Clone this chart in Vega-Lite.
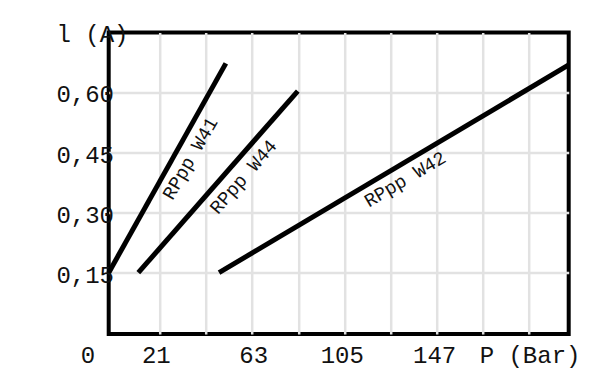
{
  "$schema": "https://vega.github.io/schema/vega-lite/v6.json",
  "width": 460,
  "height": 301.5,
  "autosize": "none",
  "padding": {"left": 108.7, "top": 32.5, "right": 31.3, "bottom": 56},
  "background": "white",
  "config": {
    "font": "Liberation Mono",
    "view": {"stroke": "#000", "strokeWidth": 4},
    "axis": {"labelFont": "Liberation Mono", "titleFont": "Liberation Mono", "labelColor": "#111", "titleColor": "#111", "titleFontWeight": "normal"}
  },
  "datasets": {
    "curves": [
      {"series": "RPpp W41", "p": -2.4, "i": 0.15},
      {"series": "RPpp W41", "p": 51.0, "i": 0.672},
      {"series": "RPpp W44", "p": 11.1, "i": 0.15},
      {"series": "RPpp W44", "p": 83.8, "i": 0.603},
      {"series": "RPpp W42", "p": 47.9, "i": 0.15},
      {"series": "RPpp W42", "p": 207.3, "i": 0.668}
    ],
    "labels": [
      {"series": "RPpp W41", "p": 34.7, "i": 0.435},
      {"series": "RPpp W44", "p": 59.0, "i": 0.389},
      {"series": "RPpp W42", "p": 132.7, "i": 0.383}
    ]
  },
  "encoding": {
    "x": {
      "field": "p", "type": "quantitative",
      "scale": {"domain": [-2.4, 207.3], "nice": false, "zero": false},
      "axis": {
        "title": null,
        "values": [0, 21, 42, 63, 84, 105, 126, 147, 168, 189],
        "labelExpr": "datum.value==0?'0':datum.value==189?'P (Bar)':(datum.value==21||datum.value==63||datum.value==105||datum.value==147)?datum.label:''",
        "labelFontSize": 24,
        "labelBaseline": "alphabetic",
        "labelPadding": 28,
        "labelOverlap": false,
        "labelFlush": false,
        "labelBound": false,
        "labelOffset": {
          "condition": [
            {"test": "datum.value==0", "value": -26.6},
            {"test": "datum.value==21", "value": -4.2},
            {"test": "datum.value==63", "value": 1},
            {"test": "datum.value==105", "value": -2.5},
            {"test": "datum.value==147", "value": -2.3},
            {"test": "datum.value==189", "value": 1}
          ],
          "value": 0
        },
        "domain": false,
        "ticks": false,
        "tickSize": 0,
        "grid": true,
        "gridColor": "#e2e2e2",
        "gridWidth": 2.5,
        "gridOpacity": {"condition": {"test": "datum.value==0", "value": 0}, "value": 1}
      }
    },
    "y": {
      "field": "i", "type": "quantitative",
      "scale": {"domain": [-0.003, 0.749], "nice": false, "zero": false},
      "axis": {
        "title": "l (A)",
        "titleAngle": 0,
        "titleAlign": "left",
        "titleBaseline": "alphabetic",
        "titleX": -52.7,
        "titleY": 8.5,
        "titleFontSize": 24,
        "values": [0.15, 0.3, 0.45, 0.6],
        "labelExpr": "replace(format(datum.value, '.2f'), '.', ',')",
        "labelFontSize": 24,
        "labelAlign": "right",
        "labelBaseline": "alphabetic",
        "labelOffset": 9.7,
        "labelPadding": -4.8,
        "labelOverlap": false,
        "labelFlush": false,
        "labelBound": false,
        "domain": false,
        "ticks": false,
        "tickSize": 0,
        "grid": true,
        "gridColor": "#e2e2e2",
        "gridWidth": 2.5
      }
    }
  },
  "layer": [
    {
      "data": {"name": "curves"},
      "mark": {"type": "line", "color": "#000", "strokeWidth": 5, "strokeCap": "butt"},
      "encoding": {"detail": {"field": "series"}}
    },
    {
      "data": {"name": "labels"},
      "transform": [{"filter": "datum.series == 'RPpp W41'"}],
      "mark": {"type": "text", "angle": 300, "fontSize": 19, "color": "#111", "align": "center", "baseline": "middle"},
      "encoding": {"text": {"field": "series"}}
    },
    {
      "data": {"name": "labels"},
      "transform": [{"filter": "datum.series == 'RPpp W44'"}],
      "mark": {"type": "text", "angle": 311, "fontSize": 19, "color": "#111", "align": "center", "baseline": "middle"},
      "encoding": {"text": {"field": "series"}}
    },
    {
      "data": {"name": "labels"},
      "transform": [{"filter": "datum.series == 'RPpp W42'"}],
      "mark": {"type": "text", "angle": 329.3, "fontSize": 19, "color": "#111", "align": "center", "baseline": "middle"},
      "encoding": {"text": {"field": "series"}}
    }
  ]
}
